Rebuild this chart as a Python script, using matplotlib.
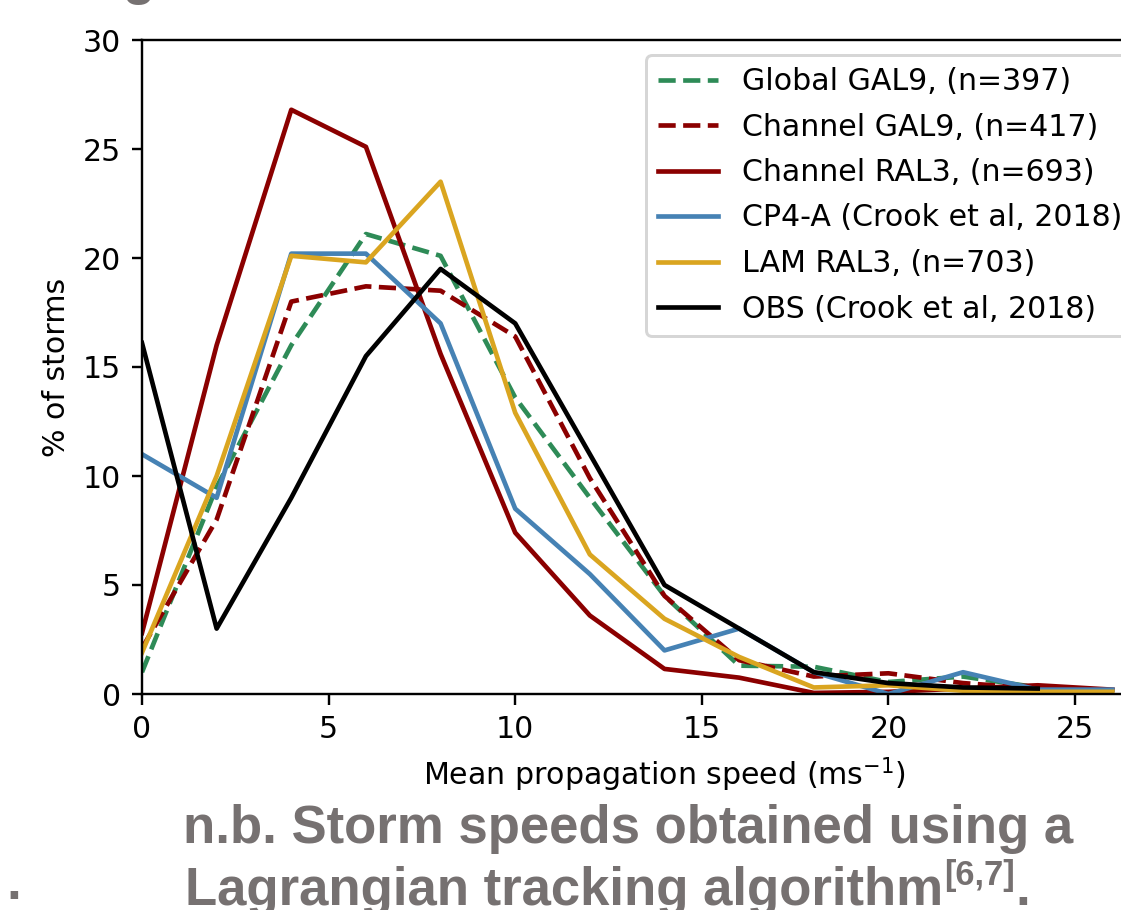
import numpy as np
import matplotlib
matplotlib.use("Agg")
import matplotlib.pyplot as plt

# propagation speed bins (m/s)
speed = [0, 2, 4, 6, 8, 10, 12, 14, 16, 18, 20, 22, 24, 26]
speed_obs = speed[:13]

global_gal9 = [1.0, 9.5, 16.0, 21.1, 20.1, 13.6, 9.0, 4.5, 1.3, 1.25, 0.55, 0.8, 0.3, 0.1]
channel_gal9 = [2.1, 8.0, 18.0, 18.7, 18.5, 16.4, 9.9, 4.5, 1.55, 0.8, 0.95, 0.5, 0.25, 0.15]
channel_ral3 = [2.8, 16.0, 26.8, 25.1, 15.6, 7.4, 3.6, 1.15, 0.75, 0.05, 0.1, 0.25, 0.4, 0.2]
cp4a = [11.0, 9.0, 20.2, 20.2, 17.0, 8.5, 5.5, 2.0, 3.0, 1.0, 0.0, 1.0, 0.2, 0.2]
lam_ral3 = [1.9, 10.0, 20.1, 19.8, 23.5, 12.9, 6.4, 3.45, 1.7, 0.3, 0.4, 0.15, 0.1, 0.1]
obs = [16.1, 3.0, 9.0, 15.5, 19.5, 17.0, 11.0, 5.0, 3.0, 1.0, 0.5, 0.3, 0.25]

W, H = 1121, 910
DPI = 216
fig = plt.figure(figsize=(W / DPI, H / DPI), dpi=DPI)
ax = fig.add_axes([142 / W, (H - 694) / H, 1045 / W, 654 / H])

ax.plot(speed, global_gal9, color="seagreen", ls="--", lw=1.55, label="Global GAL9, (n=397)")
ax.plot(speed, channel_gal9, color="darkred", ls="--", lw=1.55, label="Channel GAL9, (n=417)")
ax.plot(speed, channel_ral3, color="darkred", lw=1.55, label="Channel RAL3, (n=693)")
ax.plot(speed, cp4a, color="steelblue", lw=1.55, label="CP4-A (Crook et al, 2018)")
ax.plot(speed, lam_ral3, color="goldenrod", lw=1.55, label="LAM RAL3, (n=703)")
ax.plot(speed_obs, obs, color="black", lw=1.55, label="OBS (Crook et al, 2018)")

ax.set_xlim(0, 28)
ax.set_ylim(0, 30)
ax.set_xticks([0, 5, 10, 15, 20, 25])
ax.set_xlabel("Mean propagation speed (ms$^{-1}$)")
ax.set_ylabel("% of storms")

ax.legend(loc="upper left", bbox_to_anchor=(646 / W, 1 - 55 / H),
          bbox_transform=fig.transFigure, borderaxespad=0, labelspacing=0.55)

# caption text from the slide, partly cropped
grey = "#767171"
cap = dict(family="Liberation Sans", weight="bold", color=grey, size=17.6)
fig.text(183 / W, 1 - 843 / H, "n.b. Storm speeds obtained using a", va="baseline", **cap)
line2 = fig.text(185 / W, 1 - 905 / H, "Lagrangian tracking algorithm", va="baseline", **cap)
fig.canvas.draw()
bb = line2.get_window_extent()
sup = fig.text(bb.x1 / W + 1 / W, 1 - 885 / H, "[6,7]", va="baseline",
               family="Liberation Sans", weight="bold", color=grey, size=11.5)
fig.canvas.draw()
bb2 = sup.get_window_extent()
fig.text(bb2.x1 / W, 1 - 905 / H, ".", va="baseline", **cap)
fig.text(6 / W, 1 - 899 / H, ".", va="baseline", **cap)
fig.text(123 / W, 1 + 6 / H, "g", va="baseline", **cap)

fig.savefig("out.png", dpi=DPI)
